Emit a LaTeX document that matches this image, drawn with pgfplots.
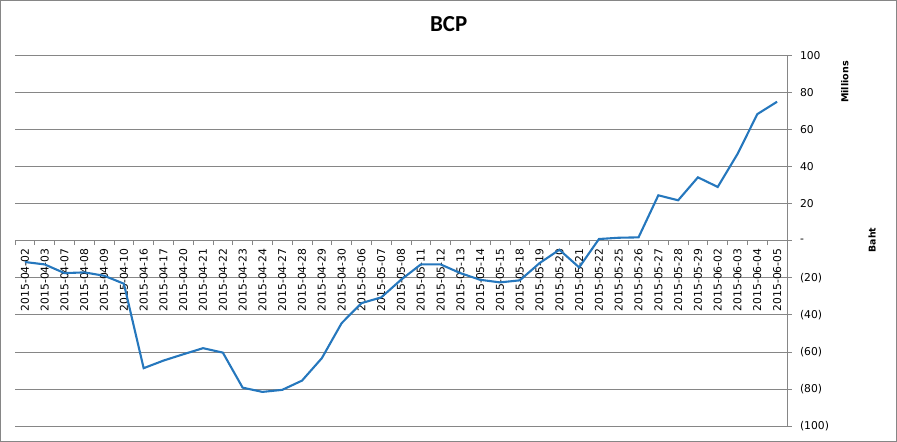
\documentclass[border=0pt]{standalone}
\usepackage{pgfplots}
\pgfplotsset{compat=1.18}
\usepackage{fontspec}
\setmainfont{DejaVu Sans}
\newfontfamily\titlefont{Carlito}
\definecolor{linec}{RGB}{37,119,189}
\definecolor{gridc}{RGB}{134,134,134}
\begin{document}
\begin{tikzpicture}
\draw[gridc, line width=1bp] (0.5bp,0.5bp) rectangle (896.5bp,441.5bp);
\begin{axis}[
  at={(15bp,16bp)}, anchor=south west,
  scale only axis, width=772bp, height=370.6bp,
  xmin=0.5, xmax=39.5, ymin=-100, ymax=100,
  axis x line*=middle, axis y line*=right,
  axis line style={gridc, line width=0.75bp},
  ymajorgrids, grid style={gridc, line width=0.75bp},
  xtick={1,...,39},
  xticklabels={2015-04-02,2015-04-03,2015-04-07,2015-04-08,2015-04-09,2015-04-10,2015-04-16,2015-04-17,2015-04-20,2015-04-21,2015-04-22,2015-04-23,2015-04-24,2015-04-27,2015-04-28,2015-04-29,2015-04-30,2015-05-06,2015-05-07,2015-05-08,2015-05-11,2015-05-12,2015-05-13,2015-05-14,2015-05-15,2015-05-18,2015-05-19,2015-05-20,2015-05-21,2015-05-22,2015-05-25,2015-05-26,2015-05-27,2015-05-28,2015-05-29,2015-06-02,2015-06-03,2015-06-04,2015-06-05},
  minor xtick={0.5,1.5,...,39.5},
  major x tick style={draw=none},
  minor x tick style={gridc, line width=0.75bp},
  minor tick length=4.5bp,
  xtick align=outside,
  ytick={-100,-80,...,100},
  yticklabels={(100),(80),(60),(40),(20),-,20,40,60,80,100},
  ytick align=outside,
  y tick style={gridc, line width=0.75bp},
  major tick length=4.5bp,
  xticklabel style={rotate=90, anchor=east, font=\fontsize{10.8}{12}\selectfont},
  yticklabel style={anchor=west, xshift=5bp, font=\fontsize{10.8}{12}\selectfont},
  clip=false,
]
\addplot[linec, line width=2.1bp] coordinates {
(1,-11.5) (2,-12.8) (3,-17.5) (4,-17.1) (5,-18.9) (6,-23.2) (7,-68.8) (8,-64.7) (9,-61.3) (10,-58.0)
(11,-60.4) (12,-79.3) (13,-81.6) (14,-80.5) (15,-75.5) (16,-63.4) (17,-44.5) (18,-33.7) (19,-30.6) (20,-21.1)
(21,-12.8) (22,-12.8) (23,-17.5) (24,-21.1) (25,-22.5) (26,-21.4) (27,-12.1) (28,-4.9) (29,-14.4) (30,0.9)
(31,1.6) (32,1.8) (33,24.5) (34,21.8) (35,34.2) (36,29.0) (37,46.8) (38,68.3) (39,75.0)
};
\end{axis}
\node[font=\titlefont\bfseries\fontsize{23}{26}\selectfont] at (448.7bp,418bp) {BCP};
\node[rotate=90, font=\bfseries\fontsize{9.6}{11}\selectfont] at (844.7bp,360bp) {Millions};
\node[rotate=90, font=\bfseries\fontsize{9.4}{11}\selectfont] at (872bp,202bp) {Baht};
\end{tikzpicture}
\end{document}
